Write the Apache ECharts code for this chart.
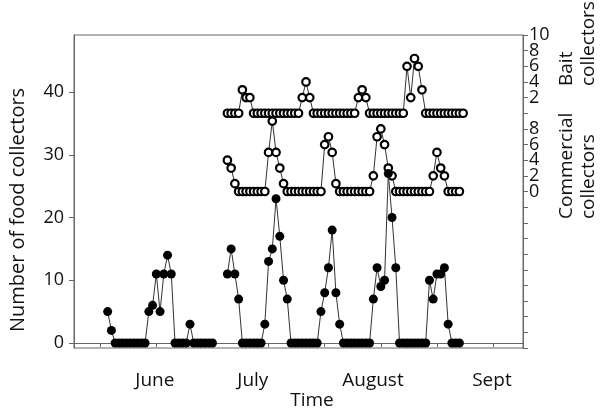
<!DOCTYPE html>
<html>
<head>
<meta charset="utf-8">
<script src="https://cdn.jsdelivr.net/npm/echarts@6/dist/echarts.min.js"></script>
<style>
  html, body { margin: 0; padding: 0; background: #fff; }
  #chart { width: 600px; height: 416px; }
</style>
</head>
<body>
<div id="chart"></div>
<script>
// Day numbers run along the time axis; one value per day in each run.
const monthNames = ['June', 'July', 'August', 'Sept'];
const monthCentres = [21.6, 47.8, 79.9, 111.7];
const timeTicks = [7, 22, 37, 52, 67, 82, 97, 112];
const foodTicks = [0, 10, 20, 30, 40];
const commercialTicks = [0, 2, 4, 6, 8];
const baitTicks = [2, 4, 6, 8, 10];

// Food collectors, June run
const juneStartDay = 9;
const foodJune = [5, 2, 0, 0, 0, 0, 0, 0, 0, 0, 0, 5, 6, 11, 5, 11, 14, 11,
  0, 0, 0, 0, 3, 0, 0, 0, 0, 0, 0];

// July to September runs
const summerStartDay = 41;
const foodSummer = [11, 15, 11, 7, 0, 0, 0, 0, 0, 0, 3, 13, 15, 23, 17, 10, 7,
  0, 0, 0, 0, 0, 0, 0, 0, 5, 8, 12, 18, 8, 3, 0, 0, 0, 0, 0, 0, 0, 0,
  7, 12, 9, 10, 27, 20, 12, 0, 0, 0, 0, 0, 0, 0, 0, 10, 7, 11, 11, 12, 3, 0, 0, 0];
const commercialSummer = [4, 3, 1, 0, 0, 0, 0, 0, 0, 0, 0, 5, 9, 5, 3, 1,
  0, 0, 0, 0, 0, 0, 0, 0, 0, 0, 6, 7, 5, 1, 0, 0, 0, 0, 0, 0, 0, 0, 0,
  2, 7, 8, 6, 3, 2, 0, 0, 0, 0, 0, 0, 0, 0, 0, 0, 2, 5, 3, 2, 0, 0, 0, 0];
const baitSummer = [0, 0, 0, 0, 3, 2, 2, 0, 0, 0, 0, 0, 0, 0, 0, 0, 0, 0, 0, 0,
  2, 4, 2, 0, 0, 0, 0, 0, 0, 0, 0, 0, 0, 0, 0, 2, 3, 2, 0, 0, 0, 0, 0, 0, 0, 0, 0, 0,
  6, 2, 7, 6, 3, 0, 0, 0, 0, 0, 0, 0, 0, 0, 0, 0];

const byDay = (start, values) => values.map((v, i) => [start + i, v]);

// Secondary scales share the right-hand axis: bait sits above commercial.
// The commercial scale tops out a hair above 20 so the "10" tick label
// is an ordinary label rather than the axis maximum.
const commercialMin = -20, commercialMax = 20.001;
const baitMin = -30, baitMax = 10.001;
const baitShift = commercialMin - baitMin;

const FONT = '"Open Sans", "Noto Sans", sans-serif';
const INK = '#111';
const AXIS = '#666';

const chart = echarts.init(document.getElementById('chart'), null, { renderer: 'canvas' });

const filledStyle = {
  type: 'line', yAxisIndex: 0, symbol: 'circle', symbolSize: 9, showAllSymbol: true,
  itemStyle: { color: '#000' }, lineStyle: { color: '#333', width: 1 },
  emphasis: { disabled: true }, z: 3
};
const openStyle = (axis) => ({
  type: 'line', yAxisIndex: axis, symbol: 'circle', symbolSize: 7.5, showAllSymbol: true,
  itemStyle: { color: '#fff', borderColor: '#000', borderWidth: 2.2 },
  lineStyle: { color: '#333', width: 1 }, emphasis: { disabled: true }, z: 2
});

chart.setOption({
  animation: false,
  backgroundColor: '#fff',
  grid: { left: 74, right: 77, top: 35, bottom: 68, show: true, borderColor: AXIS, borderWidth: 1 },
  xAxis: {
    type: 'value', min: 0, max: 120,
    splitLine: { show: false },
    axisLine: { show: true, lineStyle: { color: AXIS } },
    axisTick: { show: true, customValues: timeTicks, length: 4, lineStyle: { color: AXIS } },
    axisLabel: {
      customValues: monthCentres, margin: 23, color: INK, fontFamily: FONT, fontSize: 19,
      formatter: (v) => {
        let best = 0;
        monthCentres.forEach((c, i) => { if (Math.abs(c - v) < Math.abs(monthCentres[best] - v)) best = i; });
        return monthNames[best];
      }
    }
  },
  yAxis: [
    {
      type: 'value', position: 'left', min: -0.8, max: 49.1,
      splitLine: { show: false },
      axisLine: { show: true, lineStyle: { color: AXIS } },
      axisTick: { show: true, customValues: foodTicks, length: 5, lineStyle: { color: AXIS } },
      axisLabel: { customValues: foodTicks, margin: 10, color: INK, fontFamily: FONT, fontSize: 18 }
    },
    {
      type: 'value', position: 'right', min: commercialMin, max: commercialMax, interval: 2,
      splitLine: { show: false },
      axisLine: { show: true, lineStyle: { color: AXIS } },
      axisTick: { show: true, length: 5, lineStyle: { color: AXIS } },
      axisLabel: {
        interval: 0, hideOverlap: false, margin: 6, color: INK, fontFamily: FONT, fontSize: 18,
        showMinLabel: true, showMaxLabel: false,
        formatter: (v) => {
          const r = Math.round(v * 1000) / 1000;
          if (commercialTicks.includes(r)) return String(r);
          if (baitTicks.includes(r - baitShift)) return String(r - baitShift);
          return '';
        }
      }
    },
    { type: 'value', position: 'right', min: baitMin, max: baitMax, show: false }
  ],
  series: [
    Object.assign({ name: 'Food collectors (June)', data: byDay(juneStartDay, foodJune) }, filledStyle),
    Object.assign({ name: 'Commercial collectors', data: byDay(summerStartDay, commercialSummer) }, openStyle(1)),
    Object.assign({ name: 'Bait collectors', data: byDay(summerStartDay, baitSummer) }, openStyle(2)),
    Object.assign({ name: 'Food collectors', data: byDay(summerStartDay, foodSummer) }, filledStyle)
  ],
  graphic: [
    { type: 'text', x: 18, y: 210, rotation: Math.PI / 2,
      style: { text: 'Number of food collectors', font: '20px ' + FONT, fill: INK, align: 'center', verticalAlign: 'middle' } },
    { type: 'text', x: 312, y: 401,
      style: { text: 'Time', font: '19px ' + FONT, fill: INK, align: 'center', verticalAlign: 'middle' } },
    { type: 'text', x: 567, y: 86, rotation: Math.PI / 2,
      style: { text: 'Bait', font: '19px ' + FONT, fill: INK, align: 'left', verticalAlign: 'middle' } },
    { type: 'text', x: 589, y: 86, rotation: Math.PI / 2,
      style: { text: 'collectors', font: '19px ' + FONT, fill: INK, align: 'left', verticalAlign: 'middle' } },
    { type: 'text', x: 567, y: 219, rotation: Math.PI / 2,
      style: { text: 'Commercial', font: '19px ' + FONT, fill: INK, align: 'left', verticalAlign: 'middle' } },
    { type: 'text', x: 589, y: 219, rotation: Math.PI / 2,
      style: { text: 'collectors', font: '19px ' + FONT, fill: INK, align: 'left', verticalAlign: 'middle' } }
  ]
});
</script>
</body>
</html>
